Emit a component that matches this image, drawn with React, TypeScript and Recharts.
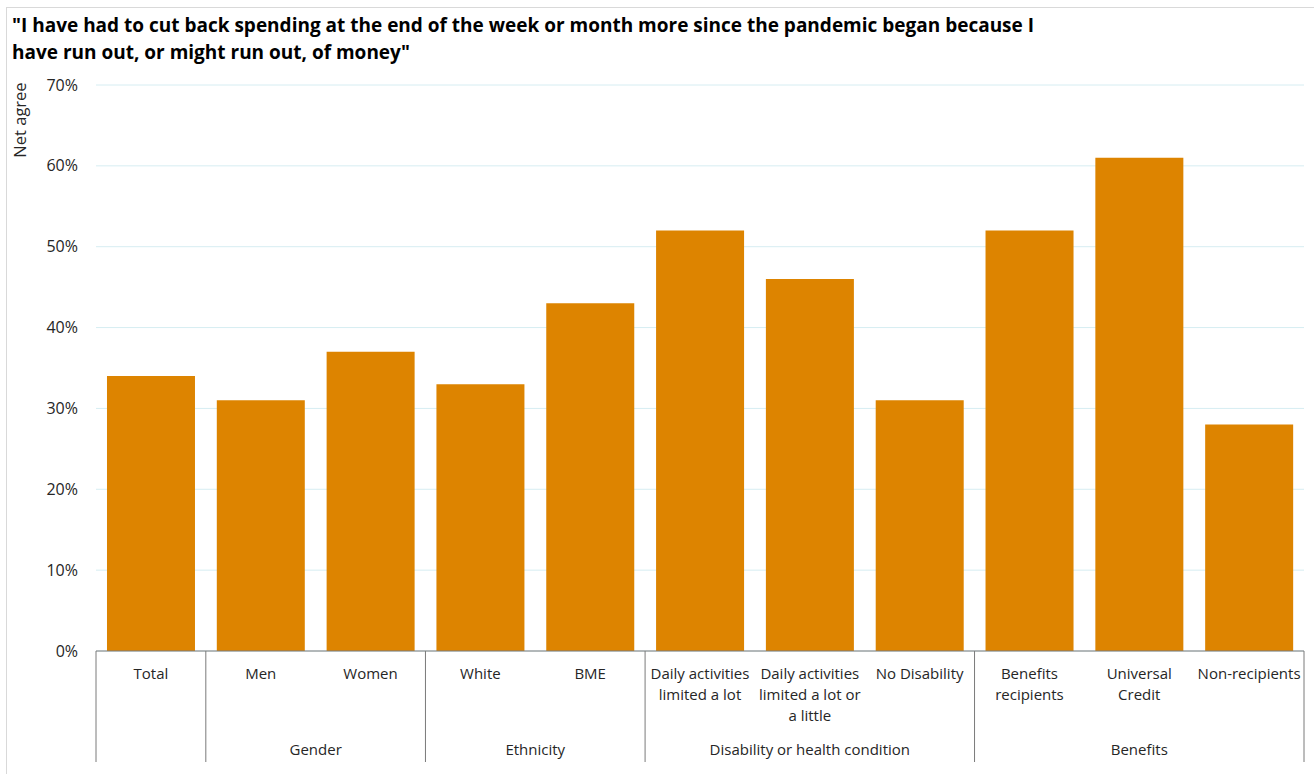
import React from "react";
import { BarChart, Bar, XAxis, YAxis, CartesianGrid } from "recharts";

const categories = [
  "Total",
  "Men",
  "Women",
  "White",
  "BME",
  "Daily activities limited a lot",
  "Daily activities limited a lot or a little",
  "No Disability",
  "Benefits recipients",
  "Universal Credit",
  "Non-recipients",
];
const categoryLines: string[][] = [
  ["Total"],
  ["Men"],
  ["Women"],
  ["White"],
  ["BME"],
  ["Daily activities", "limited a lot"],
  ["Daily activities", "limited a lot or", "a little"],
  ["No Disability"],
  ["Benefits", "recipients"],
  ["Universal", "Credit"],
  ["Non-recipients"],
];
const netAgree = [0.34, 0.31, 0.37, 0.33, 0.43, 0.52, 0.46, 0.31, 0.52, 0.61, 0.28];
const groupLabels = ["", "Gender", "Ethnicity", "Disability or health condition", "Benefits"];
const groupStarts = [0, 1, 3, 5, 8];
const groupSizes = [1, 2, 2, 3, 3];
const yTicks = [0, 0.1, 0.2, 0.3, 0.4, 0.5, 0.6, 0.7];
const titleLines = [
  '"I have had to cut back spending at the end of the week or month more since the pandemic began because I',
  'have run out, or might run out, of money"',
];

const data = categories.map((c, i) => ({ name: c, value: netAgree[i] }));

const W = 1314;
const H = 774;
const X_H = 123;
const M = { top: 85, right: 10, bottom: 0, left: 0 };
const Y_W = 96;
const FONT = "'Open Sans', 'Noto Sans', sans-serif";
const PLOT_L = M.left + Y_W;
const PLOT_R = W - M.right;
const BAND = (PLOT_R - PLOT_L) / categories.length;
const AXIS_Y = H - M.bottom - X_H;

const XTick = (props: any) => {
  const { x, payload, index } = props;
  const i = typeof index === "number" ? index : categories.indexOf(payload.value);
  const lines = categoryLines[i] || [payload.value];
  const left = x - BAND / 2;
  const gi = groupStarts.indexOf(i);
  const els: React.ReactNode[] = [];
  lines.forEach((l, k) => {
    els.push(
      <text
        key={"t" + k}
        x={x}
        y={AXIS_Y + 28 + k * 21}
        textAnchor="middle"
        fontSize={15}
        fill="#262626"
        fontFamily={FONT}
      >
        {l}
      </text>
    );
  });
  if (gi >= 0) {
    els.push(
      <line key="sep" x1={left} x2={left} y1={AXIS_Y} y2={AXIS_Y + 111} stroke="#7a7a7a" strokeWidth={1} />
    );
    if (groupLabels[gi]) {
      const cx = left + (groupSizes[gi] * BAND) / 2;
      els.push(
        <text
          key="g"
          x={cx}
          y={AXIS_Y + 104}
          textAnchor="middle"
          fontSize={15}
          fill="#262626"
          fontFamily={FONT}
        >
          {groupLabels[gi]}
        </text>
      );
    }
  }
  if (i === categories.length - 1) {
    const right = x + BAND / 2;
    els.push(
      <line key="end" x1={right} x2={right} y1={AXIS_Y} y2={AXIS_Y + 111} stroke="#7a7a7a" strokeWidth={1} />
    );
  }
  return <g>{els}</g>;
};

const YTick = (props: any) => {
  const { y, payload } = props;
  return (
    <text x={78} y={y + 5.5} textAnchor="end" fontSize={16} fill="#262626" fontFamily={FONT}>
      {Math.round(payload.value * 100) + "%"}
    </text>
  );
};

export default function App() {
  return (
    <div style={{ position: "absolute", left: 0, top: 0, width: W, height: H, background: "#fff", overflow: "hidden" }}>
      <svg width={W} height={H} style={{ position: "absolute", left: 0, top: 0 }}>
        <rect x={6.5} y={7.5} width={W + 10} height={H + 10} fill="none" stroke="#d9d9d9" strokeWidth={1} />
        {titleLines.map((t, i) => (
          <text
            key={i}
            x={12}
            y={32 + i * 27}
            fontSize={19}
            fontWeight="bold"
            fill="#000"
            fontFamily={FONT}
          >
            {t}
          </text>
        ))}
        <text
          x={0}
          y={0}
          transform="translate(26,120) rotate(-90)"
          textAnchor="middle"
          fontSize={16.5}
          fill="#262626"
          fontFamily={FONT}
        >
          Net agree
        </text>
      </svg>
      <div style={{ position: "absolute", left: 0, top: 0 }}>
        <BarChart width={W} height={H} data={data} margin={M} barCategoryGap="10%">
          <CartesianGrid vertical={false} stroke="#d6edf2" strokeWidth={1} />
          <XAxis
            dataKey="name"
            interval={0}
            tickLine={false}
            axisLine={{ stroke: "#7a7a7a" }}
            tick={<XTick />}
            height={X_H}
          />
          <YAxis
            domain={[0, 0.7]}
            ticks={yTicks}
            width={Y_W}
            axisLine={false}
            tickLine={false}
            tick={<YTick />}
            allowDataOverflow
          />
          <Bar dataKey="value" fill="#dd8400" isAnimationActive={false} />
        </BarChart>
      </div>
    </div>
  );
}
